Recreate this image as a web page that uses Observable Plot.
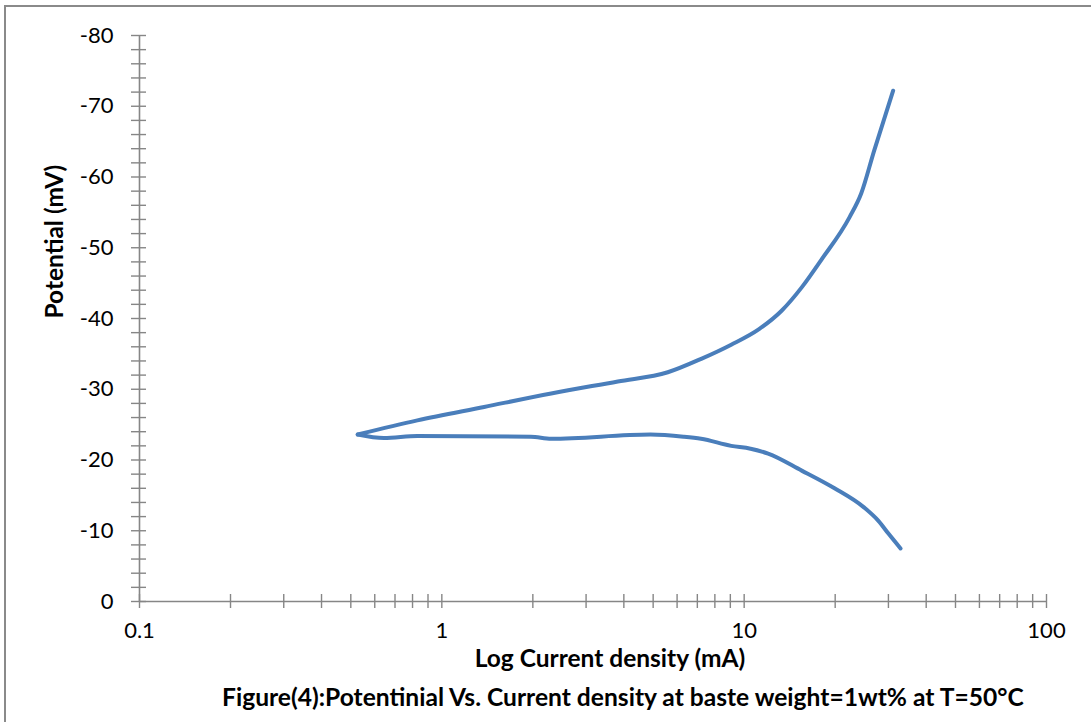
<!DOCTYPE html>
<html>
<head>
<meta charset="utf-8">
<script src="https://cdn.jsdelivr.net/npm/d3@7"></script>
<script src="https://cdn.jsdelivr.net/npm/@observablehq/plot@0.6"></script>
<style>
  body { margin: 0; background: #fff; font-family: Lato, "Open Sans", sans-serif; }
  #wrap { position: relative; width: 1091px; height: 722px; overflow: hidden; background: #fff; }
  #frame { position: absolute; left: 4px; top: 5px; right: -10px; bottom: -10px;
           border-top: 2px solid #8a8a8a; border-left: 2px solid #8a8a8a; pointer-events: none; }
  #chart { position: absolute; left: 0; top: 0; }
  #caption { position: absolute; left: 222px; top: 682px; white-space: nowrap; line-height: 30px;
             font-family: Lato, sans-serif; font-weight: bold; font-size: 24.6px; color: #000; }
</style>
</head>
<body>
<div id="wrap">
  <div id="chart"></div>
  <div id="frame"></div>
  <div id="caption">Figure(4):Potentinial Vs. Current density at baste weight=1wt% at T=50°C</div>
</div>
<script>
// Cathodic (lower) branch, from the corrosion potential outwards
const lowerCurrent   = [0.527, 0.643, 0.83, 1.97, 2.3, 4.9, 6.3, 7.2, 9.06, 10.5, 12.0, 15.5, 19.9, 24.9, 27.8, 30.0, 32.9];
const lowerPotential = [-23.6, -23.1, -23.4, -23.3, -23.0, -23.6, -23.3, -23.0, -22.0, -21.6, -20.9, -18.5, -16.0, -13.3, -11.4, -9.6, -7.5];
// Anodic (upper) branch, from the corrosion potential outwards
const upperCurrent   = [0.527, 0.83, 1.38, 2.3, 3.82, 5.59, 7.21, 9.06, 11.2, 13.3, 15.5, 18.0, 22.3, 24.4, 26.9, 31.1];
const upperPotential = [-23.6, -25.6, -27.5, -29.4, -31.1, -32.4, -34.3, -36.3, -38.5, -41.1, -44.4, -48.3, -54.3, -57.7, -63.7, -72.2];

const xMajorTicks = [0.1, 1, 10, 100];
const xMinorTicks = [0.2, 0.3, 0.4, 0.5, 0.6, 0.7, 0.8, 0.9, 2, 3, 4, 5, 6, 7, 8, 9, 20, 30, 40, 50, 60, 70, 80, 90];
const yMajorTicks = [0, -10, -20, -30, -40, -50, -60, -70, -80];
const yMinorTicks = d3.range(0, -81, -2);

const xTitle = "Log Current density (mA)";
const yTitle = "Potential (mV)";

const data = [
  ...lowerCurrent.map((c, i) => ({branch: "cathodic", current: c, potential: lowerPotential[i]})),
  ...upperCurrent.map((c, i) => ({branch: "anodic", current: c, potential: upperPotential[i]}))
];

const axisGray = "#868686";

const chart = Plot.plot({
  width: 1091,
  height: 672,
  marginLeft: 139,
  marginRight: 45,
  marginTop: 35,
  marginBottom: 71,
  style: { fontFamily: "Lato, sans-serif", background: "transparent", overflow: "visible" },
  x: { type: "log", domain: [0.1, 100] },
  y: { domain: [0, -80] },
  marks: [
    Plot.ruleX([0.1], { stroke: axisGray, strokeWidth: 1.6 }),
    Plot.ruleY([0], { stroke: axisGray, strokeWidth: 1.6 }),
    Plot.axisY(yMinorTicks, { tickSize: 15, dx: 7, tickFormat: () => "", stroke: axisGray, strokeWidth: 1.4, label: null }),
    Plot.axisX([...xMajorTicks, ...xMinorTicks], { tickSize: 14, dy: -7, tickFormat: () => "", stroke: axisGray, strokeWidth: 1.4, label: null }),
    Plot.axisY(yMajorTicks, { tickSize: 0, tickPadding: 26, tickFormat: d => String(d), fontSize: 22, fill: "#000", label: null }),
    Plot.axisX(xMajorTicks, { tickSize: 0, tickPadding: 21, tickFormat: d => String(d), fontSize: 22, fill: "#000", label: null }),
    Plot.text([xTitle], { text: d => d, frameAnchor: "bottom", dx: 17, dy: 65, fontSize: 24.5, fontWeight: "bold", fill: "#000" }),
    Plot.text([yTitle], { text: d => d, frameAnchor: "left", rotate: -90, dx: -84, fontSize: 24.5, fontWeight: "bold", fill: "#000" }),
    Plot.line(data, { x: "current", y: "potential", z: "branch", stroke: "#4a7ebb", strokeWidth: 4, curve: "monotone-x", strokeLinecap: "round", strokeLinejoin: "round" })
  ]
});
document.getElementById("chart").appendChild(chart);
</script>
</body>
</html>
